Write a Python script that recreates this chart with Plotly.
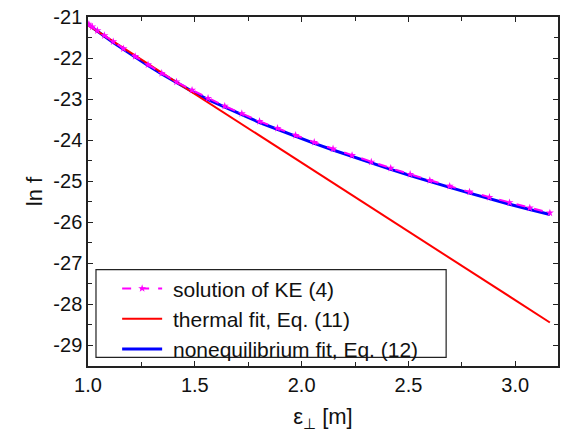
import plotly.graph_objects as go

# transverse energy grid (units of m) and ln f of the kinetic-equation solution
eps_ke = [1.000, 1.005, 1.020, 1.044, 1.077, 1.118, 1.166, 1.221, 1.281, 1.345,
          1.414, 1.487, 1.562, 1.640, 1.720, 1.803, 1.887, 1.972, 2.059, 2.147,
          2.236, 2.326, 2.417, 2.508, 2.600, 2.693, 2.786, 2.879, 2.973, 3.068, 3.162]
lnf_ke = [-21.17, -21.19, -21.24, -21.33, -21.45, -21.60, -21.77, -21.96, -22.16, -22.37,
          -22.58, -22.78, -22.98, -23.17, -23.35, -23.54, -23.71, -23.88, -24.05, -24.21,
          -24.37, -24.53, -24.68, -24.83, -24.98, -25.12, -25.26, -25.39, -25.52, -25.65, -25.77]

# thermal fit, Eq. (11): straight line in ln f
eps_th = [1.000, 3.162]
lnf_th = [-21.20, -28.44]

# nonequilibrium fit, Eq. (12)
eps_ne = eps_ke
lnf_ne = [-21.18, -21.20, -21.25, -21.34, -21.47, -21.62, -21.79, -21.98, -22.18, -22.39,
          -22.60, -22.81, -23.01, -23.20, -23.38, -23.57, -23.74, -23.91, -24.08, -24.24,
          -24.40, -24.56, -24.71, -24.86, -25.01, -25.15, -25.29, -25.43, -25.56, -25.69, -25.81]

x_ticks = [1.0, 1.5, 2.0, 2.5, 3.0]
y_ticks = [-29, -28, -27, -26, -25, -24, -23, -22, -21]

FONT = "Liberation Sans, Arial, sans-serif"
NBSP = "\u00a0"  # small gap between legend sample and its label

fig = go.Figure()
fig.add_trace(go.Scatter(
    x=eps_ne, y=lnf_ne, mode="lines", name=NBSP + "nonequilibrium fit, Eq. (12)",
    line=dict(color="#0000FF", width=3), legendrank=3))
fig.add_trace(go.Scatter(
    x=eps_th, y=lnf_th, mode="lines", name=NBSP + "thermal fit, Eq. (11)",
    line=dict(color="#FF0000", width=2), legendrank=2))
fig.add_trace(go.Scatter(
    x=eps_ke, y=lnf_ke, mode="lines+markers", name=NBSP + "solution of KE (4)",
    line=dict(color="#FF00FF", width=2, dash="dash"),
    marker=dict(symbol="star", size=6, color="#FF00FF"), legendrank=1))

axis_common = dict(
    showline=True, linecolor="#222222", linewidth=1.5, mirror="ticks",
    ticks="inside", ticklen=5, tickwidth=1.2, tickcolor="#222222",
    showgrid=False, zeroline=False,
    tickfont=dict(family=FONT, size=20, color="#111111"),
)

fig.update_xaxes(
    range=[1.0, 3.2], tickvals=x_ticks, ticktext=[f"{v:.1f}" for v in x_ticks],
    minor=dict(ticks="inside", ticklen=4, tickwidth=1.2, tickcolor="#222222", dtick=0.25, showgrid=False),
    title=dict(text="ε<sub>⊥</sub> [m]", font=dict(family=FONT, size=22, color="#111111"), standoff=14),
    **axis_common)
fig.update_yaxes(
    range=[-29.5, -21.0], tickvals=y_ticks, ticktext=[str(v) for v in y_ticks],
    minor=dict(ticks="inside", ticklen=4, tickwidth=1.2, tickcolor="#222222", dtick=0.5, showgrid=False),
    title=dict(text="ln f", font=dict(family=FONT, size=22, color="#111111"), standoff=5),
    **axis_common)

# legend frame
fig.add_shape(type="rect", xref="paper", yref="paper",
              x0=0.017, x1=0.762, y0=0.025, y1=0.276,
              line=dict(color="#222222", width=1.2), fillcolor="white", layer="below")

fig.update_layout(
    width=566, height=439,
    margin=dict(l=88, r=6, t=15, b=73),
    plot_bgcolor="white", paper_bgcolor="white",
    showlegend=True,
    legend=dict(x=0.062, y=0.28, xanchor="left", yanchor="top",
                bgcolor="rgba(0,0,0,0)", borderwidth=0,
                font=dict(family=FONT, size=21, color="#111111"),
                tracegroupgap=0, itemwidth=40),
)

fig.write_html("out.html")
